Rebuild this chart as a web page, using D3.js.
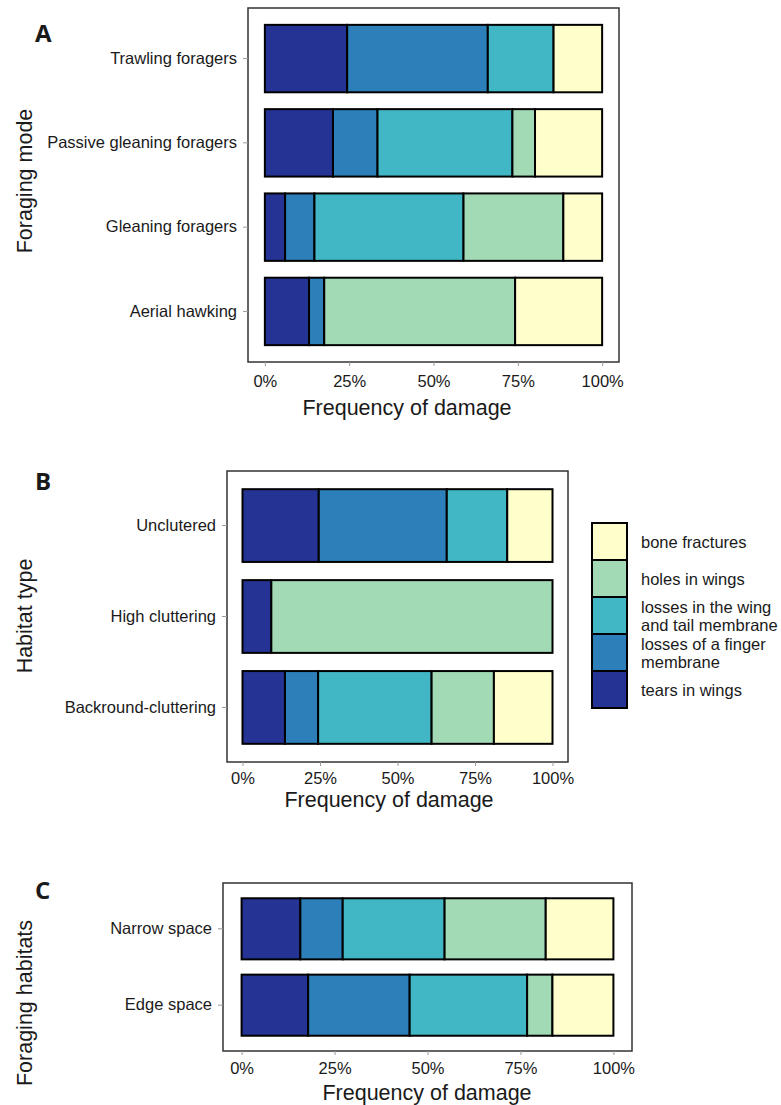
<!DOCTYPE html>
<html>
<head>
  <meta charset="utf-8">
  <script src="https://d3js.org/d3.v7.min.js"></script>
  <style>
    body { margin: 0; background: #fff; }
    text { font-family: "Liberation Sans", Arial, sans-serif; fill: #1a1a1a; }
  </style>
</head>
<body>
<script>
  // damage types, in stacking order (left to right)
  var damageTypes = ["tears in wings", "losses of a finger membrane",
    "losses in the wing and tail membrane", "holes in wings", "bone fractures"];
  var damageColors = ["#253494", "#2c7fb8", "#41b6c4", "#a1dab4", "#ffffcc"];
  var legendLines = [["bone fractures"], ["holes in wings"],
    ["losses in the wing", "and tail membrane"], ["losses of a finger", "membrane"],
    ["tears in wings"]];

  // panel A - foraging mode (% of damage per type)
  var modeLabels = ["Trawling foragers", "Passive gleaning foragers", "Gleaning foragers", "Aerial hawking"];
  var modeValues = [
    [24.4, 41.7, 19.5, 0, 14.4],
    [20.2, 13.2, 40.0, 6.7, 19.9],
    [6.0, 8.7, 44.2, 29.6, 11.5],
    [13.1, 4.5, 0, 56.6, 25.8]
  ];

  // panel B - habitat type
  var habitatLabels = ["Unclutered", "High cluttering", "Backround-cluttering"];
  var habitatValues = [
    [24.6, 41.3, 19.5, 0, 14.6],
    [9.3, 0, 0, 90.7, 0],
    [13.7, 10.7, 36.6, 20.1, 18.9]
  ];

  // panel C - foraging habitats
  var spaceLabels = ["Narrow space", "Edge space"];
  var spaceValues = [
    [15.8, 11.4, 27.4, 27.2, 18.2],
    [17.9, 27.3, 31.6, 6.8, 16.4]
  ];

  var tickValues = [0, 25, 50, 75, 100];

  var svg = d3.select("body").append("svg")
      .attr("width", 781)
      .attr("height", 1105);

  function drawPanel(opt) {
    var g = svg.append("g");
    var w = opt.right - opt.left;
    // ggplot style 5% expansion on the continuous axis
    var inner = w / 1.1;
    var x = d3.scaleLinear().domain([0, 100])
        .range([opt.left + inner * 0.05, opt.left + inner * 1.05]);
    var y = d3.scaleBand().domain(opt.labels)
        .range([opt.top, opt.bottom])
        .paddingInner(0.2).paddingOuter(0.2);

    var rows = opt.labels.map(function(l, i) {
      var r = { label: l };
      damageTypes.forEach(function(t, j) { r[t] = opt.values[i][j]; });
      return r;
    });
    var series = d3.stack().keys(damageTypes)(rows);

    g.selectAll("g.layer").data(series).enter().append("g")
        .attr("class", "layer")
        .attr("fill", function(d, i) { return damageColors[i]; })
      .selectAll("rect").data(function(d) { return d.filter(function(s) { return s[1] - s[0] > 0; }); })
      .enter().append("rect")
        .attr("x", function(d) { return x(d[0]); })
        .attr("width", function(d) { return x(d[1]) - x(d[0]); })
        .attr("y", function(d) { return y(d.data.label); })
        .attr("height", y.bandwidth())
        .attr("stroke", "#000")
        .attr("stroke-width", 2);

    // panel border
    g.append("rect")
        .attr("x", opt.left).attr("y", opt.top)
        .attr("width", w).attr("height", opt.bottom - opt.top)
        .attr("fill", "none")
        .attr("stroke", "#333")
        .attr("stroke-width", 1.5);

    // x axis
    var xa = g.append("g")
        .attr("transform", "translate(0," + opt.bottom + ")")
        .call(d3.axisBottom(x).tickValues(tickValues).tickSize(4).tickPadding(opt.tickPad)
          .tickFormat(function(d) { return d + "%"; }));
    xa.select(".domain").remove();
    xa.selectAll("line").attr("stroke", "#999");
    xa.selectAll("text").style("font-size", "16.5px")
        .style("font-family", "'Liberation Sans', Arial, sans-serif").attr("fill", "#1a1a1a");

    // y axis
    var ya = g.append("g")
        .attr("transform", "translate(" + opt.left + ",0)")
        .call(d3.axisLeft(y).tickSize(5).tickPadding(6));
    ya.select(".domain").remove();
    ya.selectAll("line").attr("stroke", "#999");
    ya.selectAll("text").style("font-size", "16.5px")
        .style("font-family", "'Liberation Sans', Arial, sans-serif").attr("fill", "#1a1a1a");

    g.append("text")
        .attr("x", opt.xTitleX).attr("y", opt.xTitleY)
        .attr("text-anchor", "middle")
        .attr("dominant-baseline", "central")
        .style("font-size", "21.5px")
        .text("Frequency of damage");

    g.append("text")
        .attr("transform", "translate(25," + opt.yTitleY + ") rotate(-90)")
        .attr("text-anchor", "middle")
        .attr("dominant-baseline", "central")
        .style("font-size", "21.5px")
        .text(opt.yTitle);

    g.append("text")
        .attr("x", 35).attr("y", opt.letterY)
        .style("font-size", "24px")
        .style("font-weight", "bold")
        .style("font-family", "'Open Sans', 'Liberation Sans', sans-serif")
        .attr("fill", "#000")
        .text(opt.letter);
  }

  drawPanel({ letter: "A", letterY: 42, labels: modeLabels, values: modeValues,
    left: 248, right: 619, top: 8, bottom: 362, tickPad: 9,
    xTitleX: 407, xTitleY: 408, yTitle: "Foraging mode", yTitleY: 181 });

  drawPanel({ letter: "B", letterY: 490, labels: habitatLabels, values: habitatValues,
    left: 227, right: 568, top: 471, bottom: 762, tickPad: 6,
    xTitleX: 389, xTitleY: 800, yTitle: "Habitat type", yTitleY: 616 });

  drawPanel({ letter: "C", letterY: 899, labels: spaceLabels, values: spaceValues,
    left: 223, right: 632, top: 883, bottom: 1051, tickPad: 7,
    xTitleX: 427, xTitleY: 1093, yTitle: "Foraging habitats", yTitleY: 1003 });

  // legend (panel B), top item is the last stacked type
  var keyH = 37, keyW = 35, legX = 592, legY = 523;
  var legend = svg.append("g");
  var order = damageTypes.slice().reverse();
  order.forEach(function(t, i) {
    var ci = damageTypes.indexOf(t);
    legend.append("rect")
        .attr("x", legX).attr("y", legY + i * keyH)
        .attr("width", keyW).attr("height", keyH)
        .attr("fill", damageColors[ci])
        .attr("stroke", "#000")
        .attr("stroke-width", 2);
    var lines = legendLines[i];
    var cy = legY + i * keyH + keyH / 2;
    lines.forEach(function(l, k) {
      legend.append("text")
          .attr("x", legX + keyW + 14)
          .attr("y", cy + (k - (lines.length - 1) / 2) * 18)
          .attr("dominant-baseline", "central")
          .style("font-size", "16.5px")
          .text(l);
    });
  });
</script>
</body>
</html>
